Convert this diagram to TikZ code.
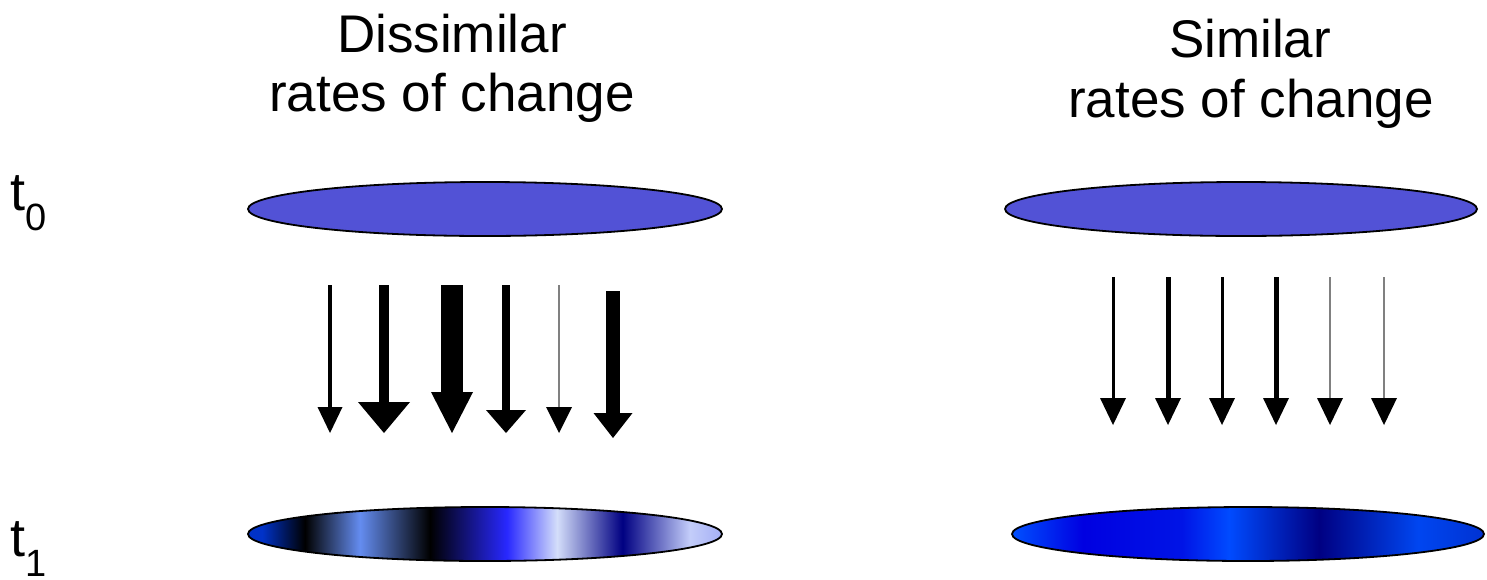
\documentclass[tikz,border=0pt]{standalone}
\usepackage{fontspec}
\setmainfont{Liberation Sans}
\definecolor{topblue}{RGB}{82,82,214}
\definecolor{dA}{RGB}{0,50,200}
\definecolor{dB}{RGB}{100,140,240}
\definecolor{dC}{RGB}{40,40,255}
\definecolor{dD}{RGB}{212,222,250}
\definecolor{dE}{RGB}{0,0,130}
\definecolor{dF}{RGB}{195,205,250}
\definecolor{dG}{RGB}{165,175,245}
\definecolor{sA}{RGB}{0,80,255}
\definecolor{sB}{RGB}{0,0,225}
\definecolor{sC}{RGB}{0,20,230}
\definecolor{sD}{RGB}{0,75,255}
\definecolor{sE}{RGB}{0,0,130}
\definecolor{sF}{RGB}{0,70,240}
\definecolor{sG}{RGB}{0,50,210}
\pgfdeclarehorizontalshading{dissimshade}{100bp}{color(0bp)=(dA); color(25bp)=(dA); color(26.5bp)=(dA); color(31bp)=(black); color(36.8bp)=(dB); color(44.2bp)=(black); color(52.3bp)=(dC); color(57.6bp)=(dD); color(64.5bp)=(dE); color(71.6bp)=(dF); color(75bp)=(dG); color(100bp)=(dG)}
\pgfdeclarehorizontalshading{simshade}{100bp}{color(0bp)=(sA); color(25bp)=(sA); color(32.5bp)=(sB); color(43bp)=(sC); color(48bp)=(sD); color(57.5bp)=(sE); color(68bp)=(sF); color(75bp)=(sG); color(100bp)=(sG)}
\newcommand\fatarrow[7]{%
  \fill[#7] (#1-#5/2,#2) rectangle (#1+#5/2,#3+1);
  \fill (#1-#6/2,#3) -- (#1+#6/2,#3) -- (#1,#4) -- cycle;}
\tikzset{
  title/.style={anchor=base, inner sep=0pt, font=\fontsize{53}{60}\selectfont},
  tlabel/.style={anchor=base west, inner sep=0pt, font=\fontsize{54}{56}\selectfont},
  disc/.style={draw=black, line width=1.8pt}
}
\newcommand\subdigit[1]{\raisebox{-20pt}{\fontsize{38}{40}\selectfont #1}}
\begin{document}
\begin{tikzpicture}[x=1pt,y=-1pt]
\useasboundingbox (0,0) rectangle (1487,579);
% titles
\node[title] (t1a) at (452,52) {Dissimilar};
\node[title] (t1b) at (452,111) {rates of change};
\node[title] (t2a) at (1250,57) {Similar};
\node[title] (t2b) at (1251,117) {rates of change};
% time labels
\node[tlabel] (lt0) at (10,210) {t\subdigit{0}};
\node[tlabel] (lt1) at (10,556) {t\subdigit{1}};
% top ellipses
\filldraw[disc, fill=topblue] (485,209) ellipse [x radius=237, y radius=27];
\filldraw[disc, fill=topblue] (1241,209) ellipse [x radius=236, y radius=27];
% bottom ellipses
\shade[shading=dissimshade] (485,534) ellipse [x radius=237, y radius=27];
\draw[disc] (485,534) ellipse [x radius=237, y radius=27];
\shade[shading=simshade] (1248,534) ellipse [x radius=236, y radius=27];
\draw[disc] (1248,534) ellipse [x radius=236, y radius=27];
% left arrows
\fatarrow{330}{285}{407}{433}{4}{25}{black}
\fatarrow{384}{285}{402}{433}{10}{52}{black}
\fatarrow{452}{285}{392}{433}{22}{42}{black}
\fatarrow{506}{285}{410}{433}{8}{40}{black}
\fatarrow{559}{285}{407}{433}{1.4}{26}{gray}
\fatarrow{613}{291}{413}{438}{14}{39}{black}
% right arrows
\fatarrow{1113}{277}{398}{425}{3}{26}{black}
\fatarrow{1168}{277}{398}{425}{5}{26}{black}
\fatarrow{1222}{277}{398}{425}{3}{26}{black}
\fatarrow{1276}{277}{398}{425}{5}{26}{black}
\fatarrow{1330}{277}{398}{425}{1.4}{26}{gray}
\fatarrow{1384}{277}{398}{425}{1.4}{26}{gray}
\end{tikzpicture}
\end{document}
